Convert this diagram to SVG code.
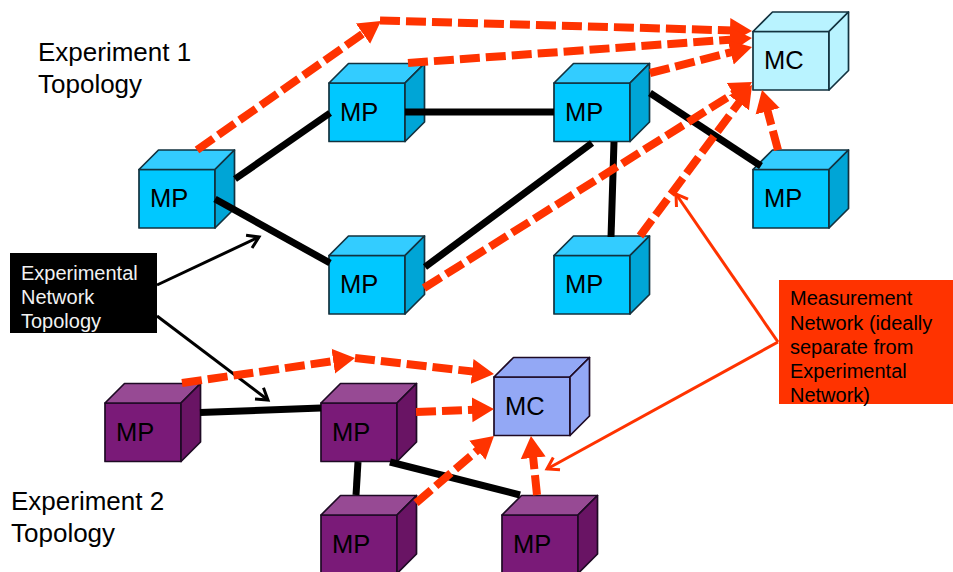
<svg xmlns="http://www.w3.org/2000/svg" width="953" height="572" viewBox="0 0 953 572">
<style>
text{font-family:"Liberation Sans",Arial,sans-serif;fill:#000}
.h{font-size:26px}.t{font-size:25.500px}.s{font-size:20px}.w{fill:#f2f2f2}
.f,.p,.r{stroke-width:1.700;stroke-linejoin:round}
.bl .f,.bl .p,.bl .r{stroke:#12323f}
.pu .f,.pu .p,.pu .r{stroke:#1e0a24}
.bl .f{fill:#00c8ff}.bl .p{fill:#33ccff}.bl .r{fill:#00a5d6}
.bl.cy .f,.bl.cy .p,.bl.cy .r{fill:#b9f3ff}
.pu .f{fill:#7a1a78}.pu .p{fill:#974a94}.pu .r{fill:#691464}
.pu.in .f,.pu.in .p,.pu.in .r{fill:#93a8f5}
.k{stroke:#000;stroke-width:7;fill:none}
.d{stroke:#ff3300;stroke-width:8;stroke-dasharray:20 6;fill:none;marker-end:url(#h)}
.a{stroke:#000;stroke-width:3;fill:none;marker-end:url(#ok)}
.b{stroke:#ff3300;stroke-width:3;fill:none;marker-end:url(#or)}
</style>
<defs>
<marker id="h" markerUnits="userSpaceOnUse" markerWidth="26" markerHeight="28" refX="3" refY="14" orient="auto"><path d="M0,1.500 L22,14 L0,26.500 Z" fill="#ff3300"/></marker>
<marker id="ok" markerUnits="userSpaceOnUse" markerWidth="16" markerHeight="18" refX="13" refY="9" orient="auto"><path d="M2,2 L13,9 L2,16" fill="none" stroke="#000" stroke-width="3"/></marker>
<marker id="or" markerUnits="userSpaceOnUse" markerWidth="16" markerHeight="18" refX="13" refY="9" orient="auto"><path d="M2,2 L13,9 L2,16" fill="none" stroke="#ff3300" stroke-width="3"/></marker>
</defs>
<rect width="953" height="572" fill="#fff"/>
<text class="h" x="38" y="61">Experiment 1</text>
<text class="h" x="38" y="93">Topology</text>
<text class="h" x="11" y="510">Experiment 2</text>
<text class="h" x="11" y="542">Topology</text>
<g id="mp1" class="bl" transform="translate(139,169.500)"><path class="f" d="M0,0H76V58.500H0Z"/><path class="p" d="M0,0L19.500,-19.500H95.500L76,0Z"/><path class="r" d="M76,0L95.500,-19.500V39L76,58.500Z"/><text class="t" x="11" y="37.500">MP</text></g>
<g id="mp2" class="bl" transform="translate(329,83)"><path class="f" d="M0,0H76V58.500H0Z"/><path class="p" d="M0,0L19.500,-19.500H95.500L76,0Z"/><path class="r" d="M76,0L95.500,-19.500V39L76,58.500Z"/><text class="t" x="11" y="37.500">MP</text></g>
<g id="mp3" class="bl" transform="translate(554,83)"><path class="f" d="M0,0H76V58.500H0Z"/><path class="p" d="M0,0L19.500,-19.500H95.500L76,0Z"/><path class="r" d="M76,0L95.500,-19.500V39L76,58.500Z"/><text class="t" x="11" y="37.500">MP</text></g>
<g id="mp4" class="bl" transform="translate(329,255.500)"><path class="f" d="M0,0H76V58.500H0Z"/><path class="p" d="M0,0L19.500,-19.500H95.500L76,0Z"/><path class="r" d="M76,0L95.500,-19.500V39L76,58.500Z"/><text class="t" x="11" y="37.500">MP</text></g>
<g id="mp5" class="bl" transform="translate(554,255.500)"><path class="f" d="M0,0H76V58.500H0Z"/><path class="p" d="M0,0L19.500,-19.500H95.500L76,0Z"/><path class="r" d="M76,0L95.500,-19.500V39L76,58.500Z"/><text class="t" x="11" y="37.500">MP</text></g>
<g id="mp6" class="bl" transform="translate(753,169.500)"><path class="f" d="M0,0H76V58.500H0Z"/><path class="p" d="M0,0L19.500,-19.500H95.500L76,0Z"/><path class="r" d="M76,0L95.500,-19.500V39L76,58.500Z"/><text class="t" x="11" y="37.500">MP</text></g>
<g id="mc1" class="bl cy" transform="translate(753,31.500)"><path class="f" d="M0,0H76V58.500H0Z"/><path class="p" d="M0,0L19.500,-19.500H95.500L76,0Z"/><path class="r" d="M76,0L95.500,-19.500V39L76,58.500Z"/><text class="t" x="11" y="37.500">MC</text></g>
<g id="pm1" class="pu" transform="translate(105,403)"><path class="f" d="M0,0H76V58.500H0Z"/><path class="p" d="M0,0L19.500,-19.500H95.500L76,0Z"/><path class="r" d="M76,0L95.500,-19.500V39L76,58.500Z"/><text class="t" x="11" y="37.500">MP</text></g>
<g id="pm2" class="pu" transform="translate(321,403)"><path class="f" d="M0,0H76V58.500H0Z"/><path class="p" d="M0,0L19.500,-19.500H95.500L76,0Z"/><path class="r" d="M76,0L95.500,-19.500V39L76,58.500Z"/><text class="t" x="11" y="37.500">MP</text></g>
<g id="pm3" class="pu" transform="translate(321,515)"><path class="f" d="M0,0H76V58.500H0Z"/><path class="p" d="M0,0L19.500,-19.500H95.500L76,0Z"/><path class="r" d="M76,0L95.500,-19.500V39L76,58.500Z"/><text class="t" x="11" y="37.500">MP</text></g>
<g id="pm4" class="pu" transform="translate(502,515)"><path class="f" d="M0,0H76V58.500H0Z"/><path class="p" d="M0,0L19.500,-19.500H95.500L76,0Z"/><path class="r" d="M76,0L95.500,-19.500V39L76,58.500Z"/><text class="t" x="11" y="37.500">MP</text></g>
<g id="mc2" class="pu in" transform="translate(494,377)"><path class="f" d="M0,0H76V58.500H0Z"/><path class="p" d="M0,0L19.500,-19.500H95.500L76,0Z"/><path class="r" d="M76,0L95.500,-19.500V39L76,58.500Z"/><text class="t" x="11" y="37.500">MC</text></g>
<g id="connectors">
<path class="k" d="M235,179L330,113"/>
<path class="k" d="M405,112H554"/>
<path class="k" d="M215,199L330,263"/>
<path class="k" d="M425,267L592,143"/>
<path class="k" d="M650,93L761,166"/>
<path class="k" d="M614,142L611,237"/>
<path class="k" d="M200,412.500L321,408"/>
<path class="k" d="M358,462L356,495"/>
<path class="k" d="M390,462L520,495"/>
<path class="a" d="M157,285L259,237"/>
<path class="a" d="M157,316L268,400"/>
<path class="b" d="M778,342L676,194"/>
<path class="b" d="M778,342L547,469"/>
<path class="d" d="M197,150L365.400,31.900"/>
<path class="d" d="M380,20.500L733,30.500"/>
<path class="d" d="M408,63L733,39.400"/>
<path class="d" d="M650,73L733.600,51.700"/>
<path class="d" d="M424,288L735.900,92.100"/>
<path class="d" d="M640,236L740.700,100.300"/>
<path class="d" d="M778,150L766.900,108.400"/>
<path class="d" d="M182,383L336.200,360.700"/>
<path class="d" d="M355,358L475.100,371.800"/>
<path class="d" d="M416,412L475,409.700"/>
<path class="d" d="M416,503L479.600,448.400"/>
<path class="d" d="M537,495L532.900,454.900"/>
</g>
<g id="experimental-label"><rect x="10" y="253" width="147" height="80" fill="#000"/>
<text class="s w" x="21" y="280">Experimental</text><text class="s w" x="21" y="304">Network</text><text class="s w" x="21" y="328">Topology</text></g>
<g id="measurement-label"><rect x="779" y="280" width="174" height="124" fill="#ff3300"/>
<text class="s" x="790" y="305">Measurement</text><text class="s" x="790" y="330">Network (ideally</text><text class="s" x="790" y="354">separate from</text><text class="s" x="790" y="378">Experimental</text><text class="s" x="790" y="402">Network)</text></g>
</svg>
